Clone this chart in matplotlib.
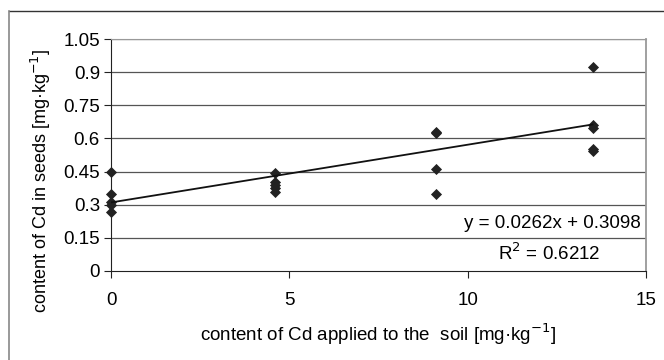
import matplotlib.pyplot as plt
import numpy as np

plt.rcParams['font.family'] = ['Liberation Sans', 'DejaVu Sans']

# Cd applied to soil vs Cd in seeds
dose = [0, 0, 0, 0, 0,
        4.6, 4.6, 4.6, 4.6, 4.6,
        9.1, 9.1, 9.1, 9.1,
        13.5, 13.5, 13.5, 13.5, 13.5]
seed_cd = [0.45, 0.35, 0.30, 0.31, 0.265,
           0.445, 0.404, 0.389, 0.374, 0.355,
           0.63, 0.625, 0.46, 0.35,
           0.923, 0.661, 0.646, 0.551, 0.545]

slope = 0.0262
intercept = 0.3098
r_squared = 0.6212

y_ticks = [0, 0.15, 0.3, 0.45, 0.6, 0.75, 0.9, 1.05]
y_tick_labels = ['0', '0.15', '0.3', '0.45', '0.6', '0.75', '0.9', '1.05']
x_ticks = [0, 5, 10, 15]

fs = 13.5

fig = plt.figure(figsize=(6.64, 3.6), dpi=100)
ax = fig.add_axes([0.1672, 0.248, 0.8057, 0.6428])

# outer chart frame (only top and left edges visible)
fig.add_artist(plt.Line2D([9 / 664, 1], [1 - 11 / 360] * 2, color='#333333', lw=1.0))
fig.add_artist(plt.Line2D([9 / 664] * 2, [0, 1 - 11 / 360], color='#888888', lw=1.2))

for yt in y_ticks[1:]:
    ax.axhline(yt, color='#555555', lw=0.9, zorder=1)

ax.scatter(dose, seed_cd, marker='D', s=32, color='#222222', zorder=3,
           linewidths=0, clip_on=False)

xs = np.array([min(dose), max(dose)])
ax.plot(xs, slope * xs + intercept, color='#111111', lw=1.3, zorder=4)

ax.text(14.85, 0.212, f'y = {slope}x + {intercept}', ha='right', va='center', fontsize=fs)
ax.text(12.3, 0.08, f'R$^2$ = {r_squared}', ha='center', va='center', fontsize=fs)

ax.set_xlim(0, 15)
ax.set_ylim(0, 1.05)
ax.set_xticks(x_ticks)
ax.set_yticks(y_ticks)
ax.set_yticklabels(y_tick_labels)
ax.tick_params(axis='x', direction='out', length=5, pad=10, labelsize=fs, color='#222222')
ax.tick_params(axis='y', direction='out', length=5, pad=3, labelsize=fs, color='#222222')

ax.spines['left'].set_color('#222222')
ax.spines['bottom'].set_color('#222222')
ax.spines['top'].set_color('#999999')
ax.spines['right'].set_color('#999999')
ax.spines['right'].set_linewidth(1.3)

ax.set_xlabel('content of Cd applied to the  soil [mg·kg$^{-1}$]', fontsize=fs, labelpad=9)
ax.set_ylabel('content of Cd in seeds [mg·kg$^{-1}$]', fontsize=13)
ax.yaxis.set_label_coords(-0.108, 0.39)

fig.savefig('out.png', dpi=100, facecolor='white')
